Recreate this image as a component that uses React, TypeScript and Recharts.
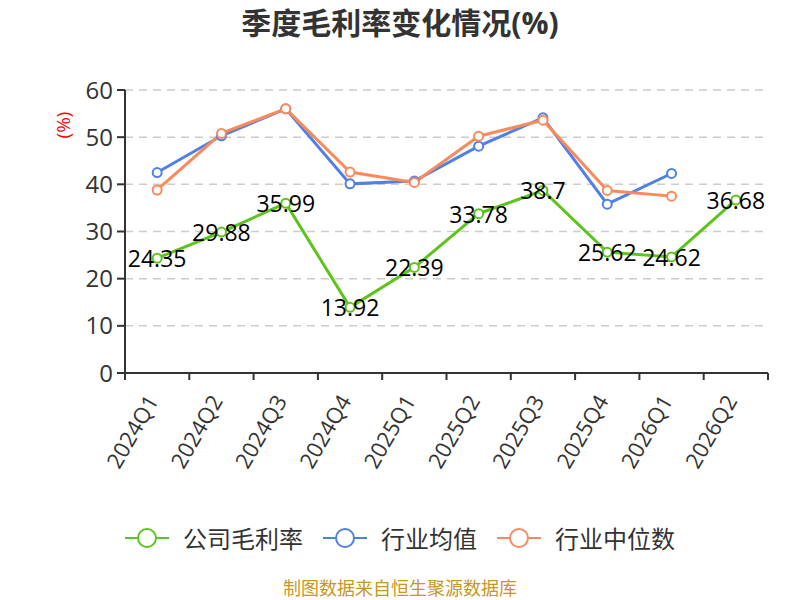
import { LineChart, Line, XAxis, YAxis, CartesianGrid, LabelList } from 'recharts';

// 季度毛利率变化情况

const QUARTERS = ['2024Q1', '2024Q2', '2024Q3', '2024Q4', '2025Q1', '2025Q2', '2025Q3', '2025Q4', '2026Q1', '2026Q2'];
const COMPANY = [24.35, 29.88, 35.99, 13.92, 22.39, 33.78, 38.7, 25.62, 24.62, 36.68];
const INDUSTRY_AVG = [42.5, 50.3, 56.0, 40.1, 40.7, 48.1, 54.1, 35.8, 42.3, null];
const INDUSTRY_MEDIAN = [38.8, 50.8, 56.0, 42.6, 40.4, 50.2, 53.6, 38.7, 37.5, null];
const Y_TICKS = [0, 10, 20, 30, 40, 50, 60];

const GREEN = '#5cc41b';
const BLUE = '#4f80e6';
const ORANGE = '#fb8a5b';
const FONT = '"Open Sans", "Noto Sans CJK SC", sans-serif';

const W = 800;
const H = 600;
const MARGIN = { top: 90, right: 32, left: 65, bottom: 137 };
const Y_AXIS_W = 60;
const BAND = (W - MARGIN.left - Y_AXIS_W - MARGIN.right) / QUARTERS.length;

const data = QUARTERS.map((q, i) => ({
  name: q,
  company: COMPANY[i],
  avg: INDUSTRY_AVG[i],
  median: INDUSTRY_MEDIAN[i],
}));

function XTick(props: any) {
  const { x, y, payload, index } = props;
  const half = BAND / 2;
  const tx = x - 3;
  const ty = y + 25;
  return (
    <g>
      <line x1={x - half} y1={y} x2={x - half} y2={y + 7} stroke="#333" strokeWidth={2} />
      {index === QUARTERS.length - 1 && (
        <line x1={x + half} y1={y} x2={x + half} y2={y + 7} stroke="#333" strokeWidth={2} />
      )}
      <text
        x={tx}
        y={ty}
        textAnchor="end"
        dominantBaseline="middle"
        transform={`rotate(-60, ${tx}, ${ty})`}
        fill="#333"
        fontSize={22}
        fontFamily={FONT}
      >
        {payload.value}
      </text>
    </g>
  );
}

function ValueLabel(props: any) {
  const { x, y, value } = props;
  if (value == null) return null;
  return (
    <text x={x} y={y} textAnchor="middle" dominantBaseline="central" fill="#000" fontSize={23} fontFamily={FONT}>
      {value}
    </text>
  );
}

function LegendIcon({ color }: { color: string }) {
  return (
    <svg width={44} height={24} style={{ marginRight: 14 }}>
      <line x1={0} y1={12} x2={44} y2={12} stroke={color} strokeWidth={2} />
      <circle cx={22} cy={12} r={9} fill="#fff" stroke={color} strokeWidth={2} />
    </svg>
  );
}

const LEGEND = [
  { label: '公司毛利率', color: GREEN },
  { label: '行业均值', color: BLUE },
  { label: '行业中位数', color: ORANGE },
];

export default function App() {
  return (
    <div style={{ position: 'absolute', left: 0, top: 0, width: W, height: H, background: '#fff', fontFamily: FONT, overflow: 'hidden' }}>
      <div
        style={{
          position: 'absolute',
          top: 4,
          width: W,
          textAlign: 'center',
          fontSize: 30,
          lineHeight: '38px',
          fontWeight: 'bold',
          color: '#333',
        }}
      >
        季度毛利率变化情况(%)
      </div>
      <div
        style={{
          position: 'absolute',
          left: 43,
          top: 112,
          width: 40,
          textAlign: 'center',
          fontSize: 19,
          lineHeight: '26px',
          color: '#f00',
          transform: 'rotate(-90deg)',
        }}
      >
        (%)
      </div>
      <LineChart width={W} height={H} data={data} margin={MARGIN}>
        <CartesianGrid vertical={false} stroke="#ccc" strokeDasharray="8 6" strokeWidth={1.5} />
        <XAxis
          dataKey="name"
          height={90}
          interval={0}
          padding={{ left: BAND / 2, right: BAND / 2 }}
          tickLine={false}
          tickSize={0}
          tickMargin={0}
          axisLine={{ stroke: '#333', strokeWidth: 2 }}
          tick={<XTick />}
        />
        <YAxis
          width={Y_AXIS_W}
          domain={[0, 60]}
          ticks={Y_TICKS}
          axisLine={{ stroke: '#333', strokeWidth: 2 }}
          tickLine={{ stroke: '#333', strokeWidth: 2 }}
          tickSize={8}
          tickMargin={4}
          tick={{ fill: '#333', fontSize: 24, fontFamily: FONT }}
        />
        <Line
          dataKey="avg"
          stroke={BLUE}
          strokeWidth={3}
          dot={{ r: 4.5, fill: '#fff', stroke: BLUE, strokeWidth: 2 }}
          isAnimationActive={false}
        />
        <Line
          dataKey="median"
          stroke={ORANGE}
          strokeWidth={3}
          dot={{ r: 4.5, fill: '#fff', stroke: ORANGE, strokeWidth: 2 }}
          isAnimationActive={false}
        />
        <Line
          dataKey="company"
          stroke={GREEN}
          strokeWidth={3}
          dot={{ r: 4.5, fill: '#fff', stroke: GREEN, strokeWidth: 2 }}
          isAnimationActive={false}
        >
          <LabelList dataKey="company" content={<ValueLabel />} />
        </Line>
      </LineChart>
      <div
        style={{
          position: 'absolute',
          top: 520,
          width: W,
          display: 'flex',
          justifyContent: 'center',
          alignItems: 'center',
          gap: 20,
          fontSize: 24,
          color: '#333',
        }}
      >
        {LEGEND.map((item) => (
          <div key={item.label} style={{ display: 'flex', alignItems: 'center' }}>
            <LegendIcon color={item.color} />
            <span>{item.label}</span>
          </div>
        ))}
      </div>
      <div
        style={{
          position: 'absolute',
          top: 578,
          width: W,
          textAlign: 'center',
          fontSize: 18,
          lineHeight: '20px',
          color: '#c9961f',
        }}
      >
        制图数据来自恒生聚源数据库
      </div>
    </div>
  );
}
